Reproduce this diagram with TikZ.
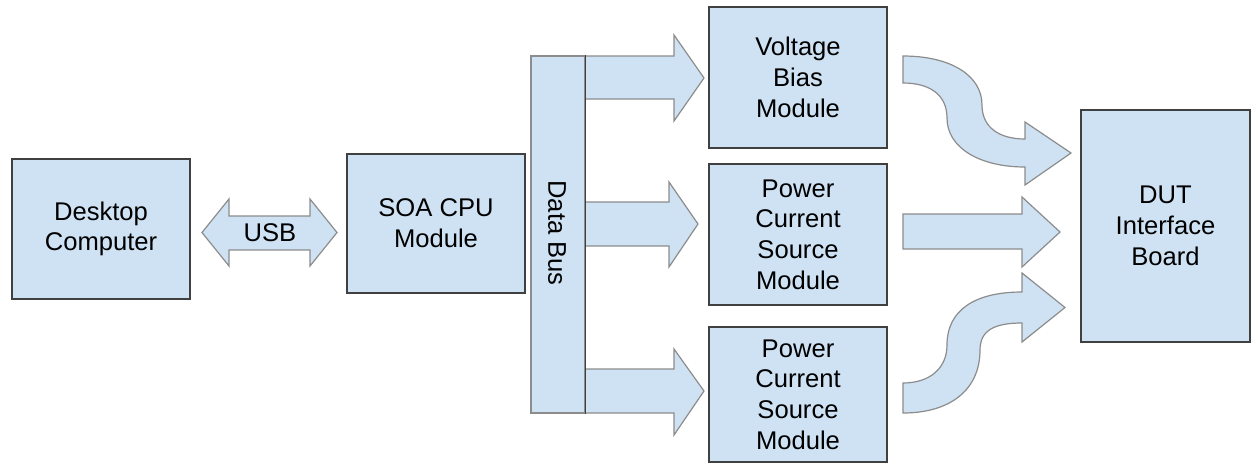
\documentclass[tikz,border=0pt]{standalone}
\usepackage{fontspec}
\setmainfont{Liberation Sans}
\definecolor{boxfill}{HTML}{CFE2F3}
\definecolor{boxline}{HTML}{404040}
\definecolor{arrline}{HTML}{8C8C8C}

\begin{document}
\begin{tikzpicture}[x=1pt, y=-1pt, font=\fontsize{25.6}{30.7}\selectfont,
  blk/.style={draw=boxline, fill=boxfill, line width=1.2pt, inner sep=0pt, align=center},
  fat/.style={draw=arrline, fill=boxfill, line width=1.2pt, line join=miter}]
\useasboundingbox (0,0) rectangle (1258,464);
\node[blk, minimum width=178pt, minimum height=140pt] (PC) at (101,229) {Desktop\\Computer};
\node[blk, minimum width=178pt, minimum height=139pt] (CPU) at (436,223.5) {SOA CPU\\Module};
\node[blk, minimum width=178pt, minimum height=141pt] (VB) at (798,77.5) {Voltage\\Bias\\Module};
\node[blk, minimum width=178pt, minimum height=141pt] (PCS1) at (798,234.5) {Power\\Current\\Source\\Module};
\node[blk, minimum width=178pt, minimum height=135pt] (PCS2) at (798,394.5) {Power\\Current\\Source\\Module};
\node[blk, minimum width=169pt, minimum height=232pt] (DUT) at (1165.5,226) {DUT\\Interface\\Board};
\node[fat, inner sep=0pt, minimum width=54pt, minimum height=357pt] (BUS) at (558,234.5) {};
\node[rotate=-90] at (557,233) {Data Bus};
\draw[fat] (202,232.5) -- (229,199) -- (229,216) -- (310,216) -- (310,199) -- (337,232.5)
  -- (310,266) -- (310,250) -- (229,250) -- (229,266) -- cycle;
\node (USB) at (270,233) {USB};
\draw[fat] (BUS.east |- 0,56) -- (674,56) -- (674,35) -- (704,78) -- (674,121) -- (674,99) -- (BUS.east |- 0,99);
\draw[fat] (BUS.east |- 0,202) -- (669,202) -- (669,182) -- (698,224) -- (669,267) -- (669,246) -- (BUS.east |- 0,246);
\draw[fat] (BUS.east |- 0,369) -- (674,369) -- (674,349) -- (704,391) -- (674,435) -- (674,413) -- (BUS.east |- 0,413);
\draw[boxline, line width=1.2pt] (BUS.north east) -- (BUS.south east);
\draw[fat] (903,56) .. controls (950,56) and (982,75) .. (982,105) .. controls (982,128) and (1000,139) .. (1025,139)
  -- (1025,122) -- (1071,153) -- (1025,185) -- (1025,167) .. controls (980,167) and (947,148) .. (947,118)
  .. controls (947,95) and (930,83) .. (903,83) -- cycle;
\draw[fat] (903,214) -- (1022,214) -- (1022,197) -- (1060,232) -- (1022,267) -- (1022,249) -- (903,249) -- cycle;
\draw[fat] (903,383) .. controls (930,383) and (947,368) .. (947,345) .. controls (947,310) and (975,292) .. (1022,292)
  -- (1022,273) -- (1065,307.5) -- (1022,342) -- (1022,323) .. controls (995,323) and (980,330) .. (980,350)
  .. controls (980,390) and (950,413) .. (903,413) -- cycle;
\end{tikzpicture}
\end{document}
